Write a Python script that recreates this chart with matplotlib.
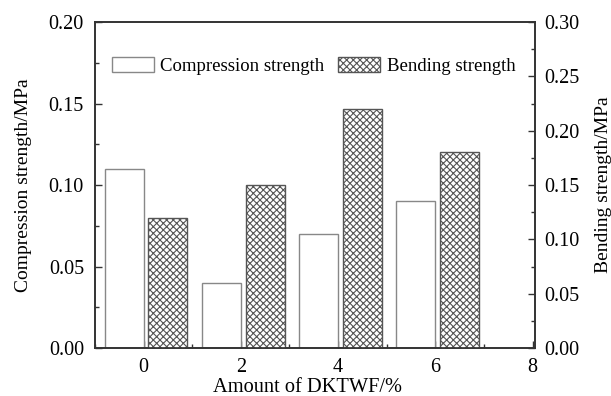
import matplotlib
matplotlib.use("Agg")
import matplotlib.pyplot as plt
from matplotlib.ticker import MultipleLocator
from matplotlib.patches import Patch

plt.rcParams['font.family'] = ['Liberation Serif', 'DejaVu Serif']
plt.rcParams['hatch.linewidth'] = 0.8

amounts = [0, 2, 4, 6]
compression = [0.11, 0.04, 0.07, 0.09]
bending = [0.12, 0.15, 0.22, 0.18]
x_ticks = [0, 2, 4, 6, 8]

fig = plt.figure(figsize=(6.11, 3.96), dpi=100)
ax = fig.add_axes([0.1555, 0.1212, 0.7201, 0.8232])
ax2 = ax.twinx()

width = 0.8
ax.bar([a - 0.4 for a in amounts], compression, width=width, color='white',
       edgecolor='#888888', linewidth=1.0, zorder=2)
ax2.bar([a + 0.5 for a in amounts], bending, width=width, color='white',
        edgecolor='#555555', hatch='xxxxx', linewidth=1.0, zorder=2)

ax.set_xlim(-1, 8.05)
ax.set_ylim(0, 0.20)
ax2.set_ylim(0, 0.30)

ax.set_xticks(x_ticks)
ax.xaxis.set_minor_locator(MultipleLocator(1))
ax.yaxis.set_major_locator(MultipleLocator(0.05))
ax.yaxis.set_minor_locator(MultipleLocator(0.025))
ax2.yaxis.set_major_locator(MultipleLocator(0.05))
ax2.yaxis.set_minor_locator(MultipleLocator(0.025))
ax.yaxis.set_major_formatter(plt.FormatStrFormatter('%.2f'))
ax2.yaxis.set_major_formatter(plt.FormatStrFormatter('%.2f'))

fs = 14.5
ax.tick_params(axis='both', which='both', direction='in', labelsize=fs, width=1.0, color='#333333')
ax.tick_params(axis='both', which='major', length=5)
ax.tick_params(axis='both', which='minor', length=3)
ax.tick_params(axis='y', which='major', pad=8)
ax.tick_params(axis='x', which='major', pad=7)
ax.tick_params(top=False, which='both')
ax2.tick_params(axis='y', which='both', direction='in', labelsize=fs, width=1.0, color='#333333')
ax2.tick_params(axis='y', which='major', length=5, pad=7)
ax2.tick_params(axis='y', which='minor', length=3)

for a in (ax, ax2):
    for s in a.spines.values():
        s.set_linewidth(1.2)
        s.set_color('#333333')

ax.set_xlabel('Amount of DKTWF/%', fontsize=14.7)
ax.xaxis.set_label_coords(0.482, -0.093)
ax.set_ylabel('Compression strength/MPa', fontsize=14, labelpad=12)
ax2.set_ylabel('Bending strength/MPa', fontsize=14, labelpad=11)

handles = [Patch(facecolor='white', edgecolor='#888888', linewidth=1.0),
           Patch(facecolor='white', edgecolor='#555555', hatch='xxxxx', linewidth=1.0)]
ax2.legend(handles, ['Compression strength', 'Bending strength'], loc='upper left',
           bbox_to_anchor=(0.038, 0.893), ncol=2, frameon=False, fontsize=13.5,
           handlelength=2.25, handleheight=0.9, handletextpad=0.33, columnspacing=0.75,
           borderaxespad=0, borderpad=0)

fig.savefig('out.png', dpi=100)
